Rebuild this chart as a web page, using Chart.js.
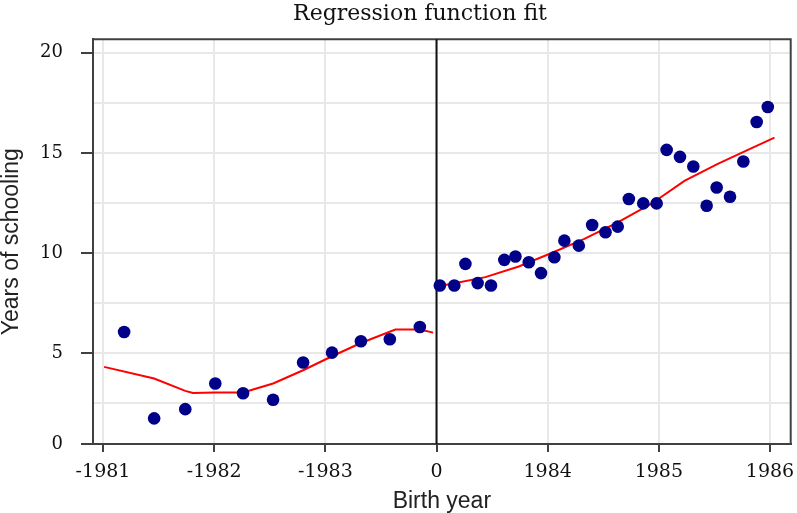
<!DOCTYPE html>
<html><head><meta charset="utf-8">
<script src="https://cdn.jsdelivr.net/npm/chart.js@4.4.1/dist/chart.umd.min.js"></script>
<style>html,body{margin:0;padding:0;background:#fff;}#wrap{width:797px;height:513px;}</style>
</head><body><div id="wrap"><canvas id="c" width="797" height="513"></canvas></div>
<script>
const chartTitle = 'Regression function fit';
const xAxisTitle = 'Birth year';
const yAxisTitle = 'Years of schooling';
const xTickValues = [-3, -2, -1, 0, 1, 2, 3];
const xTickLabels = ['-1981', '-1982', '-1983', '0', '1984', '1985', '1986'];
const yGridValues = [2.5, 5, 7.5, 10, 12.5, 15, 17.5, 20];
const yLabelStep = 5;

const leftX = [-2.81, -2.54, -2.26, -1.99, -1.74, -1.47, -1.20, -0.94, -0.68, -0.42, -0.15];
const leftY = [6.06, 1.75, 2.21, 3.49, 3.00, 2.68, 4.54, 5.03, 5.60, 5.70, 6.31];

const rightX = [0.03, 0.16, 0.26, 0.37, 0.49, 0.61, 0.71, 0.83, 0.94, 1.06, 1.15, 1.28, 1.40, 1.52, 1.63, 1.73, 1.86, 1.98, 2.07, 2.19, 2.31, 2.43, 2.52, 2.64, 2.76, 2.88, 2.98];
const rightY = [8.38, 8.38, 9.46, 8.50, 8.38, 9.66, 9.83, 9.54, 9.00, 9.79, 10.62, 10.37, 11.40, 11.04, 11.32, 12.70, 12.48, 12.48, 15.15, 14.80, 14.32, 12.36, 13.27, 12.81, 14.57, 16.54, 17.29];

const fitLeftX = [-2.99, -2.54, -2.26, -2.19, -1.99, -1.74, -1.47, -1.20, -0.94, -0.68, -0.37, -0.15, -0.03];
const fitLeftY = [4.32, 3.74, 3.12, 3.02, 3.04, 3.04, 3.49, 4.15, 4.85, 5.51, 6.18, 6.18, 6.03];

const fitRightX = [0.00, 0.14, 0.44, 0.74, 1.03, 1.33, 1.63, 1.93, 2.23, 2.53, 2.83, 3.04];
const fitRightY = [8.33, 8.47, 8.80, 9.33, 9.99, 10.71, 11.53, 12.45, 13.60, 14.45, 15.23, 15.76];

const xMin = -3.09, xMax = 3.186, yMin = 0.47, yMax = 20.67;

const toPts = (xs, ys) => xs.map((x, i) => ({x: x, y: ys[i]}));
const AXIS = '#404040';
const isLabelled = (v) => v === yMin || Math.abs(v % yLabelStep) < 1e-9;

const framePlugin = {
  id: 'frame',
  beforeDatasetsDraw(chart) {
    const {ctx, chartArea: a, scales} = chart;
    ctx.save();
    ctx.strokeStyle = AXIS;
    ctx.lineWidth = 2;
    ctx.beginPath();
    ctx.moveTo(a.left, a.top); ctx.lineTo(a.right, a.top); ctx.lineTo(a.right, a.bottom);
    ctx.stroke();
    const x0 = scales.x.getPixelForValue(0);
    ctx.strokeStyle = '#111';
    ctx.beginPath();
    ctx.moveTo(x0, a.top); ctx.lineTo(x0, a.bottom);
    ctx.stroke();
    ctx.restore();
  },
  afterDraw(chart) {
    const {ctx} = chart;
    ctx.save();
    ctx.fillStyle = '#111';
    ctx.font = '22px "DejaVu Serif"';
    ctx.textAlign = 'center';
    ctx.textBaseline = 'alphabetic';
    ctx.fillText(chartTitle, 420, 20);
    ctx.restore();
  }
};

new Chart(document.getElementById('c'), {
  type: 'scatter',
  data: {
    datasets: [
      {data: toPts(fitLeftX, fitLeftY), showLine: true, borderColor: '#ff0000', borderWidth: 2, pointRadius: 0, tension: 0, order: 2},
      {data: toPts(fitRightX, fitRightY), showLine: true, borderColor: '#ff0000', borderWidth: 2, pointRadius: 0, tension: 0, order: 2},
      {data: toPts(leftX, leftY), backgroundColor: '#000088', borderWidth: 0, pointRadius: 6.3, order: 1},
      {data: toPts(rightX, rightY), backgroundColor: '#000088', borderWidth: 0, pointRadius: 6.3, order: 1}
    ]
  },
  options: {
    responsive: false,
    animation: false,
    devicePixelRatio: 1,
    layout: {padding: {top: 39.3, right: 3.5, left: 0, bottom: 0}},
    plugins: {legend: {display: false}, tooltip: {enabled: false}, title: {display: false}},
    scales: {
      x: {
        type: 'linear', min: xMin, max: xMax,
        afterBuildTicks(scale) { scale.ticks = xTickValues.map(v => ({value: v})); },
        afterFit(scale) { scale.height = 69; scale.paddingLeft = 0; scale.paddingRight = 0; },
        ticks: {
          callback: (v) => { const i = xTickValues.indexOf(v); return i >= 0 ? xTickLabels[i] : ''; },
          font: {family: 'DejaVu Serif', size: 19}, color: '#111', padding: 9, maxRotation: 0, autoSkip: false
        },
        grid: {color: '#e8e8e8', lineWidth: 2, tickLength: 8, tickColor: AXIS, tickWidth: 2},
        border: {display: true, color: AXIS, width: 2},
        title: {display: true, text: xAxisTitle, font: {family: 'Liberation Sans', size: 23, lineHeight: 1}, color: '#222', padding: {top: 0, bottom: 0}}
      },
      y: {
        type: 'linear', min: yMin, max: yMax,
        afterBuildTicks(scale) { scale.ticks = [yMin].concat(yGridValues).map(v => ({value: v})); },
        ticks: {
          callback: (v) => (v === yMin ? '0' : (Math.abs(v % yLabelStep) < 1e-9 ? String(v) : '')),
          font: {family: 'DejaVu Serif', size: 18}, color: '#111', padding: 18, autoSkip: false
        },
        afterFit(scale) { scale.width = 93; scale.paddingTop = 0; scale.paddingBottom = 0; },
        grid: {
          color: '#e8e8e8', lineWidth: 2, tickLength: 12, tickWidth: 2,
          tickColor: (ctx) => (ctx.tick && isLabelled(ctx.tick.value)) ? AXIS : 'rgba(0,0,0,0)'
        },
        border: {display: true, color: AXIS, width: 2},
        title: {display: true, text: yAxisTitle, font: {family: 'Liberation Sans', size: 23, lineHeight: 1}, color: '#222', padding: {top: 0.5, bottom: 0}}
      }
    }
  },
  plugins: [framePlugin]
});
</script>
</body></html>
